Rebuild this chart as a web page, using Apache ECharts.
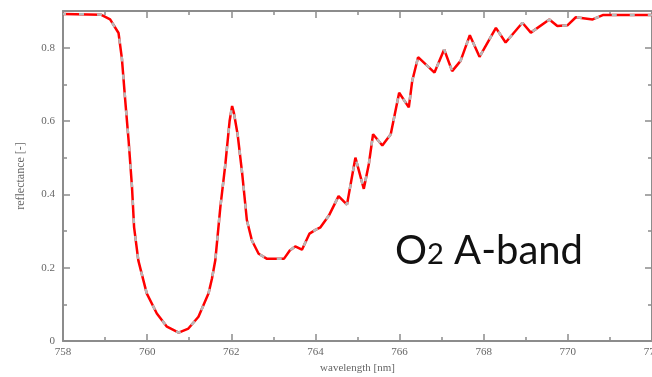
<!DOCTYPE html>
<html>
<head>
<meta charset="utf-8">
<script src="https://cdn.jsdelivr.net/npm/echarts@6/dist/echarts.min.js"></script>
<style>
  html, body { margin: 0; padding: 0; background: #fff; }
  #chart { width: 652px; height: 377px; }
</style>
</head>
<body>
<div id="chart"></div>
<script>
// wavelength [nm] and reflectance
const wavelength = [758.0, 758.9, 759.12, 759.32, 759.4, 759.48, 759.56, 759.64, 759.69, 759.79, 759.99,
  760.23, 760.47, 760.75, 760.98, 761.22, 761.46, 761.54, 761.62, 761.74, 761.86, 761.96, 762.02,
  762.06, 762.15, 762.26, 762.37, 762.49, 762.65, 762.85, 763.25, 763.39, 763.52, 763.68, 763.86,
  764.0, 764.12, 764.32, 764.55, 764.75, 764.95, 765.15, 765.27, 765.37, 765.59, 765.79, 765.99,
  766.22, 766.3, 766.44, 766.83, 767.06, 767.25, 767.45, 767.67, 767.9, 768.29, 768.52, 768.92,
  769.12, 769.56, 769.75, 769.99, 770.19, 770.59, 770.83, 772.0];
const reflectance = [0.892, 0.89, 0.877, 0.84, 0.77, 0.655, 0.546, 0.42, 0.31, 0.22, 0.13,
  0.075, 0.039, 0.023, 0.034, 0.066, 0.13, 0.17, 0.22, 0.365, 0.483, 0.60, 0.641,
  0.623, 0.564, 0.456, 0.33, 0.274, 0.238, 0.224, 0.224, 0.247, 0.258, 0.249, 0.293,
  0.303, 0.31, 0.342, 0.395, 0.372, 0.50, 0.415, 0.483, 0.564, 0.533, 0.564, 0.677,
  0.637, 0.709, 0.774, 0.732, 0.795, 0.736, 0.764, 0.834, 0.775, 0.854, 0.814, 0.868,
  0.841, 0.877, 0.859, 0.861, 0.883, 0.877, 0.889, 0.889];
const xMin = 758, xMax = 772, xStep = 2;
const yMin = 0, yMax = 0.9, yStep = 0.2;

const points = wavelength.map((w, i) => [w, reflectance[i]]);

const chart = echarts.init(document.getElementById('chart'));

const axisGray = '#8c8c8c';
const labelFont = { color: '#666', fontFamily: 'Liberation Serif', fontSize: 11 };

function xAx(pos, show) {
  return {
    type: 'value', position: pos, min: xMin, max: xMax, interval: xStep,
    axisLine: { show: true, onZero: false, lineStyle: { color: axisGray, width: 2 } },
    axisTick: { show: true, inside: true, length: 7, lineStyle: { color: axisGray, width: 1.5 } },
    minorTick: { show: true, splitNumber: 2, length: 4, lineStyle: { color: axisGray, width: 1.5 } },
    axisLabel: show ? Object.assign({ margin: 6 }, labelFont) : { show: false },
    splitLine: { show: false },
    name: show ? 'wavelength [nm]' : '',
    nameLocation: 'middle', nameGap: 20,
    nameTextStyle: labelFont
  };
}
function yAx(pos, show) {
  return {
    type: 'value', position: pos, min: yMin, max: yMax, interval: yStep,
    axisLine: { show: true, onZero: false, lineStyle: { color: axisGray, width: 2 } },
    axisTick: { show: true, inside: true, length: 7, lineStyle: { color: axisGray, width: 1.5 } },
    minorTick: { show: true, splitNumber: 2, length: 4, lineStyle: { color: axisGray, width: 1.5 } },
    axisLabel: show ? Object.assign({ margin: 8, showMaxLabel: false, formatter: v => String(+v.toFixed(1)) }, labelFont) : { show: false },
    splitLine: { show: false },
    name: show ? 'reflectance [-]' : '',
    nameLocation: 'middle', nameGap: 36,
    nameTextStyle: Object.assign({}, labelFont, { fontSize: 12 })
  };
}

chart.setOption({
  animation: false,
  grid: { left: 63, right: 0, top: 11, bottom: 36, outerBoundsMode: 'none', containLabel: false },
  xAxis: [xAx('bottom', true), xAx('top', false)],
  yAxis: [yAx('left', true), yAx('right', false)],
  series: [
    {
      type: 'line', data: points, showSymbol: false,
      lineStyle: { color: '#ff0000', width: 2.5 }
    },
    {
      type: 'line', data: points, showSymbol: false,
      lineStyle: { color: '#b8b8b8', width: 2.5, type: [5, 13], dashOffset: 2 }
    }
  ],
  graphic: [{
    type: 'text', left: 395, top: 231,
    style: {
      text: 'O{s|2} A-band', fontFamily: 'Lato', fontSize: 40, fill: '#111',
      verticalAlign: 'bottom',
      rich: { s: { fontFamily: 'Lato', fontSize: 29, fill: '#111', verticalAlign: 'bottom', padding: [0, 0, 2, 0] } }
    }
  }]
});
</script>
</body>
</html>
